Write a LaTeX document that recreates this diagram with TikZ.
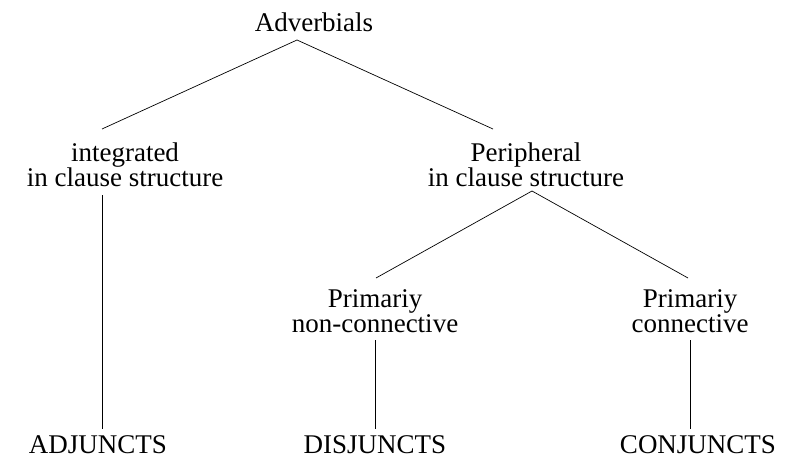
\documentclass[tikz,border=0pt]{standalone}
\usepackage{fontspec}
\setmainfont{Liberation Serif}
\begin{document}
\begin{tikzpicture}[x=1pt,y=-1pt,
  lbl/.style={align=center,inner sep=0pt,font=\fontsize{27}{25.5}\selectfont},
  branch/.style={line width=0.7pt}]
\useasboundingbox (0,0) rectangle (790,460);

% labels
\node[lbl,anchor=base] (adv) at (314,32) {Adverbials};
\node[lbl] (integ) at (125,165) {integrated\\in clause structure};
\node[lbl] (periph) at (526,165) {Peripheral\\in clause structure};
\node[lbl] (nonconn) at (375,311) {Primariy\\non-connective};
\node[lbl] (conn) at (690,311) {Primariy\\connective};
\node[lbl,anchor=base] (adj) at (98,453) {ADJUNCTS};
\node[lbl,anchor=base] (disj) at (375,453) {DISJUNCTS};
\node[lbl,anchor=base] (conj) at (698,453) {CONJUNCTS};

% branching points and line ends
\coordinate (advsplit) at (297,40);
\coordinate (integtop) at (102,129);
\coordinate (periphtop) at (493,129);
\coordinate (periphsplit) at (532,191);
\coordinate (nonconntop) at (376,278);
\coordinate (conntop) at (688,278);
\coordinate (integfoot) at (102,195);
\coordinate (adjhead) at (102,429);
\coordinate (nonconnfoot) at (375,340);
\coordinate (disjhead) at (375,429);
\coordinate (connfoot) at (690,340);
\coordinate (conjhead) at (690,429);

% tree edges
\draw[branch] (advsplit) -- (integtop);
\draw[branch] (advsplit) -- (periphtop);
\draw[branch] (periphsplit) -- (nonconntop);
\draw[branch] (periphsplit) -- (conntop);
\draw[branch] (integfoot) -- (adjhead);
\draw[branch] (nonconnfoot) -- (disjhead);
\draw[branch] (connfoot) -- (conjhead);
\end{tikzpicture}
\end{document}
